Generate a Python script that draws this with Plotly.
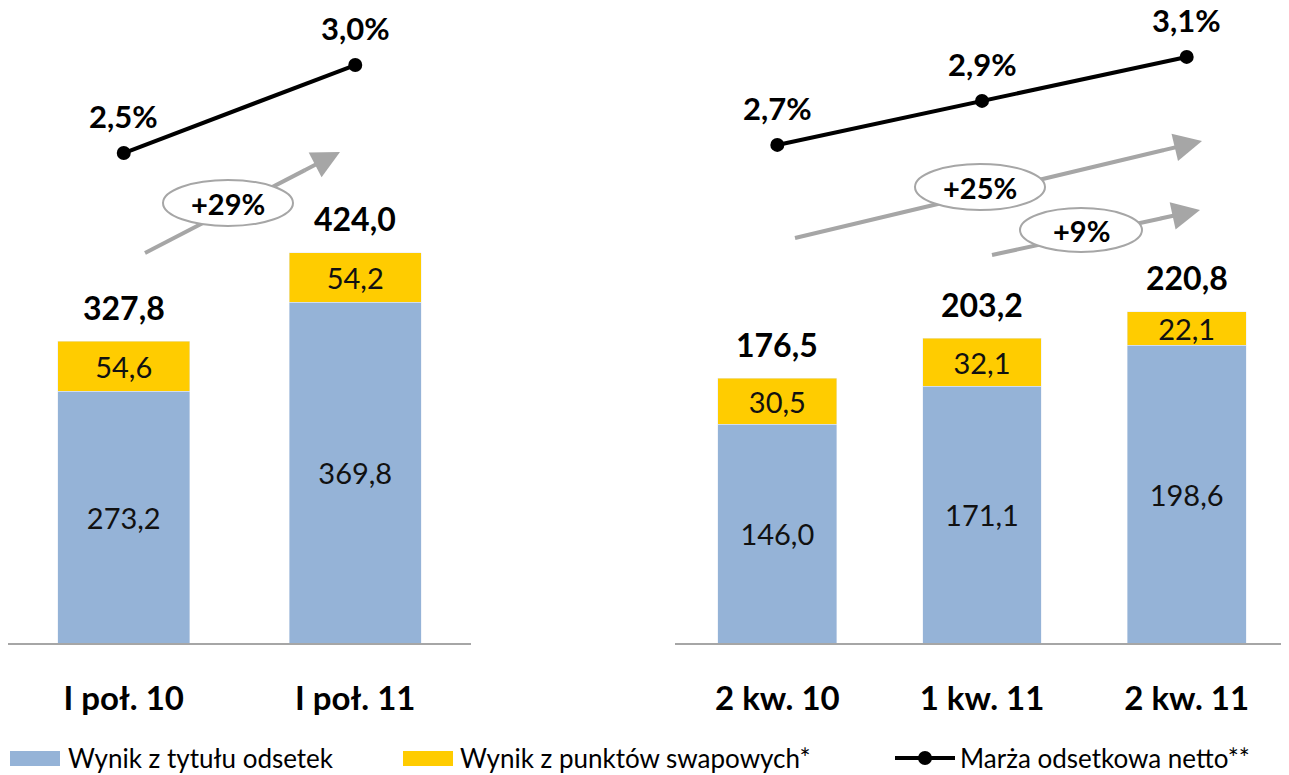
import plotly.graph_objects as go

# data
cats_h = ["I poł. 10", "I poł. 11"]
cats_q = ["2 kw. 10", "1 kw. 11", "2 kw. 11"]
odsetki_h = [273.2, 369.8]
swap_h = [54.6, 54.2]
total_h = [327.8, 424.0]
margin_h = [2.5, 3.0]
odsetki_q = [146.0, 171.1, 198.6]
swap_q = [30.5, 32.1, 22.1]
total_q = [176.5, 203.2, 220.8]
margin_q = [2.7, 2.9, 3.1]
growth_labels = ["+29%", "+25%", "+9%"]
legend_names = ["Wynik z tytułu odsetek", "Wynik z punktów swapowych*", "Marża odsetkowa netto**"]

# the page body has an 8px margin, so the figure is made 8px smaller on each side
OFF = 8
W, H = 1289 - OFF, 775 - OFF
BASE = 643                 # baseline of the bars (page pixels)
PLOT_H = BASE - OFF
FONT = "Lato"
BLUE = "#95B3D7"
YELLOW = "#FFCC00"
GREY = "#A6A6A6"


def fmt(v, suffix=""):
    return f"{v:.1f}".replace(".", ",") + suffix


def px(x):
    return (x - OFF) / W


def py(y):
    return (BASE - y) / PLOT_H


fig = go.Figure()

for xa, ya, ya2, cats, ods, swp, mrg, bw in [
    ("x", "y", "y3", cats_h, odsetki_h, swap_h, margin_h, 0.57),
    ("x2", "y2", "y4", cats_q, odsetki_q, swap_q, margin_q, 0.58),
]:
    for vals, col in [(ods, BLUE), (swp, YELLOW)]:
        fig.add_trace(go.Bar(x=cats, y=vals, marker_color=col, width=bw,
                             text=[fmt(v) for v in vals], textposition="inside",
                             insidetextanchor="middle", constraintext="none",
                             textfont=dict(size=29, color="#111", family=FONT),
                             xaxis=xa, yaxis=ya, showlegend=False))
    fig.add_trace(go.Scatter(x=cats, y=mrg, mode="lines+markers",
                             line=dict(color="black", width=4),
                             marker=dict(size=14, color="black"),
                             xaxis=xa, yaxis=ya2, showlegend=False))

annotations = []
bold = dict(size=32, family=FONT, weight="bold", color="black")
# totals above bars
for xr, yr, cats, tot in [("x", "y", cats_h, total_h), ("x2", "y2", cats_q, total_q)]:
    for c, t in zip(cats, tot):
        annotations.append(dict(x=c, y=t, xref=xr, yref=yr, text=fmt(t), showarrow=False,
                                xanchor="center", yanchor="middle", yshift=34, font=bold))
# margin labels
for xr, yr, cats, mrg in [("x", "y3", cats_h, margin_h), ("x2", "y4", cats_q, margin_q)]:
    for c, m in zip(cats, mrg):
        annotations.append(dict(x=c, y=m, xref=xr, yref=yr, text=fmt(m, "%"), showarrow=False,
                                xanchor="center", yanchor="middle", yshift=37,
                                font=dict(bold, size=31)))

shapes = []
# growth arrows: (tail, tip, ellipse centre, rx, ry) in page pixels
arrows = [
    ((145, 253), (340, 152), (228, 203), 65, 23),
    ((795, 238), (1202, 141), (980, 187), 65, 23),
    ((992, 255), (1200, 210), (1081, 230), 61, 22),
]
for (tail, tip, ctr, rx, ry), lab in zip(arrows, growth_labels):
    dx, dy = tip[0] - tail[0], tip[1] - tail[1]
    ln = (dx ** 2 + dy ** 2) ** 0.5
    ux, uy = dx / ln, dy / ln
    mid = (tip[0] - ux * 40, tip[1] - uy * 40)
    shapes.append(dict(type="line", xref="paper", yref="paper",
                       x0=px(tail[0]), y0=py(tail[1]), x1=px(mid[0]), y1=py(mid[1]),
                       line=dict(color=GREY, width=4)))
    annotations.append(dict(x=px(tip[0]), y=py(tip[1]), xref="paper", yref="paper",
                            ax=-ux * 42, ay=-uy * 42, text="", showarrow=True,
                            arrowhead=2, arrowsize=1.4, arrowwidth=4, arrowcolor=GREY))
    shapes.append(dict(type="circle", xref="paper", yref="paper",
                       x0=px(ctr[0] - rx), x1=px(ctr[0] + rx),
                       y0=py(ctr[1] + ry), y1=py(ctr[1] - ry),
                       fillcolor="white", line=dict(color=GREY, width=2)))
    annotations.append(dict(x=px(ctr[0]), y=py(ctr[1]), xref="paper", yref="paper",
                            text=lab, showarrow=False, xanchor="center", yanchor="middle",
                            font=dict(size=29, family=FONT, weight="bold", color="black")))

# legend drawn by hand so the swatches match the original size
ly = 758
shapes.append(dict(type="rect", xref="paper", yref="paper", x0=px(10), x1=px(60),
                   y0=py(ly + 8), y1=py(ly - 7), fillcolor=BLUE, line_width=0))
shapes.append(dict(type="rect", xref="paper", yref="paper", x0=px(403), x1=px(453),
                   y0=py(ly + 8), y1=py(ly - 7), fillcolor=YELLOW, line_width=0))
shapes.append(dict(type="line", xref="paper", yref="paper", x0=px(895), x1=px(955),
                   y0=py(ly), y1=py(ly), line=dict(color="black", width=4)))
shapes.append(dict(type="circle", xref="paper", yref="paper", x0=px(918), x1=px(932),
                   y0=py(ly + 7), y1=py(ly - 7), fillcolor="black", line_width=0))
for x0, name in zip([66, 458, 958], legend_names):
    annotations.append(dict(x=px(x0), y=py(ly), xref="paper", yref="paper", text=name,
                            showarrow=False, xanchor="left", yanchor="middle",
                            font=dict(size=26, family=FONT, color="black")))

xcommon = dict(type="category", showline=True, linecolor=GREY, linewidth=2,
               showgrid=False, zeroline=False, ticks="", ticklabelstandoff=25,
               tickfont=dict(size=33, family=FONT, weight="bold", color="black"))
ycommon = dict(visible=False, showgrid=False, zeroline=False)

fig.update_layout(
    width=W, height=H,
    margin=dict(l=0, r=0, t=0, b=H - PLOT_H),
    barmode="stack",
    plot_bgcolor="white", paper_bgcolor="white",
    font=dict(family=FONT),
    xaxis=dict(xcommon, domain=[0, px(471)], range=[-0.5, 1.5], anchor="y"),
    xaxis2=dict(xcommon, domain=[px(675), 1.0], range=[-0.5, 2.5], anchor="y2"),
    yaxis=dict(ycommon, range=[0, PLOT_H / 0.921], anchor="x"),
    yaxis2=dict(ycommon, range=[0, PLOT_H / 1.50], anchor="x2"),
    yaxis3=dict(ycommon, range=[-0.284, -0.284 + PLOT_H / 176], overlaying="y", anchor="x"),
    yaxis4=dict(ycommon, range=[0.436, 0.436 + PLOT_H / 220], overlaying="y2", anchor="x2"),
    shapes=shapes,
    annotations=annotations,
)

fig.write_html("out.html")
